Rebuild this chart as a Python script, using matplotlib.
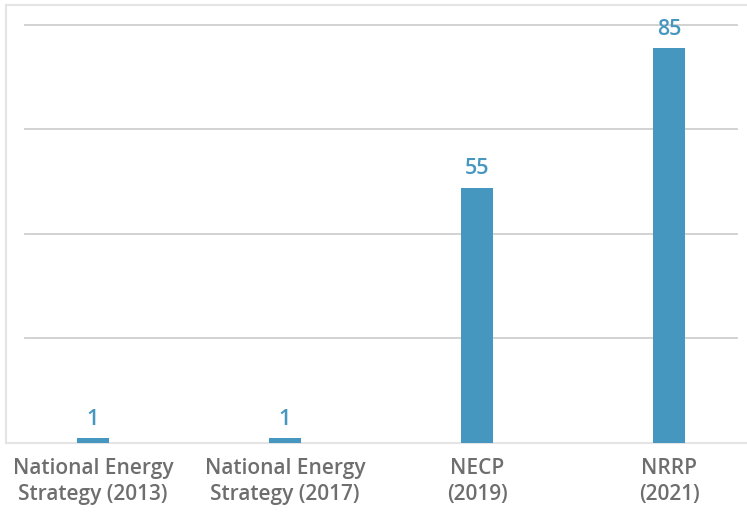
import matplotlib.pyplot as plt

# Data
categories = ["National Energy\nStrategy (2013)", "National Energy\nStrategy (2017)",
              "NECP\n(2019)", "NRRP\n(2021)"]
values = [1, 1, 55, 85]
grid_levels = [22.5, 45, 67.5, 90]

bar_color = "#4697c0"
text_gray = "#6e6e6e"
frame_gray = "#e4e4e4"

fig = plt.figure(figsize=(7.47, 5.12), dpi=100)
ax = fig.add_axes([6 / 747, (512 - 443) / 512, 741 / 747, 438 / 512])

x = list(range(len(values)))
ax.bar(x, values, width=0.17, color=bar_color, zorder=3)

ax.set_xlim(-0.453, 3.406)
ax.set_ylim(0, 94.3)

# Horizontal gridlines (not across full width)
for g in grid_levels:
    ax.axhline(g, xmin=0.0256, xmax=0.986, color="#cfcfcf", lw=1.3, zorder=1)

# Value labels above bars
for xi, v in zip(x, values):
    ax.annotate(str(v), (xi, v), xytext=(0, 6), textcoords="offset points",
                ha="center", va="bottom", color=bar_color, fontsize=15.5,
                fontweight="semibold", family="Open Sans")

ax.set_xticks(x)
ax.set_xticklabels(categories, fontsize=15, color=text_gray,
                   fontweight="semibold", family="Open Sans", linespacing=1.3)
ax.tick_params(axis="x", length=0, pad=11)
ax.set_yticks([])

for side in ["left", "top", "bottom"]:
    ax.spines[side].set_color(frame_gray)
    ax.spines[side].set_linewidth(1.5)
ax.spines["right"].set_visible(False)

fig.savefig("out.png", dpi=100)
